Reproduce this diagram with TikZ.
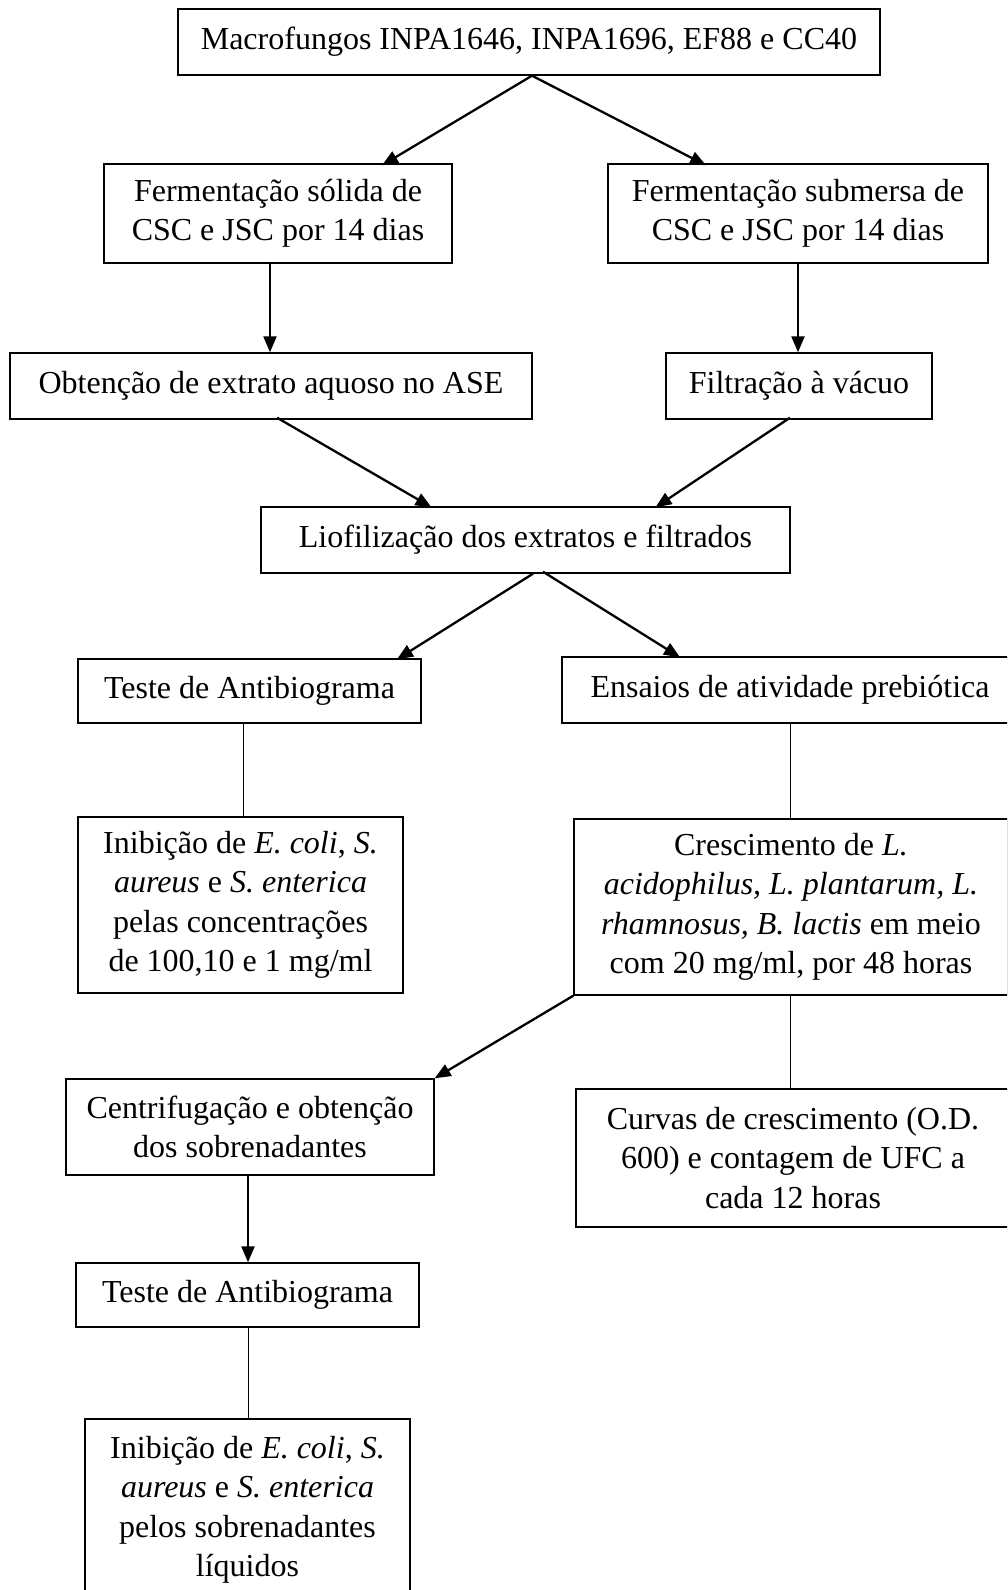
\documentclass[tikz,border=0pt]{standalone}
\usepackage{fontspec}
\setmainfont{Liberation Serif}
\usetikzlibrary{arrows.meta}
\begin{document}
\begin{tikzpicture}[x=1pt,y=-1pt,
  box/.style={draw,line width=1.4pt,inner sep=0pt,align=center,
    font=\fontsize{32}{39.5}\selectfont},
  arr/.style={line width=2.3pt,-{Triangle[length=16pt,width=13pt]}},
  thin/.style={line width=1pt}]
\useasboundingbox (0,0) rectangle (1007,1590);
\clip (0,0) rectangle (1007,1590);
\node[box,minimum width=702,minimum height=66] (top) at (529,42) {Macrofungos INPA1646, INPA1696, EF88 e CC40};
\node[box,minimum width=348,minimum height=99] (fs) at (278,213.5) {Fermentação sólida de\\CSC e JSC por 14 dias};
\node[box,minimum width=380,minimum height=99] (fsub) at (798,213.5) {Fermentação submersa de\\CSC e JSC por 14 dias};
\node[box,minimum width=522,minimum height=66] (obt) at (271,386) {Obtenção de extrato aquoso no ASE};
\node[box,minimum width=266,minimum height=66] (filt) at (799,386) {Filtração à vácuo};
\node[box,minimum width=529,minimum height=66] (lio) at (525.5,540) {Liofilização dos extratos e filtrados};
\node[box,minimum width=343,minimum height=64] (t1) at (249.5,691) {Teste de Antibiograma};
\node[box,minimum width=456,minimum height=66] (ens) at (790,690) {Ensaios de atividade prebiótica};
\node[box,minimum width=325,minimum height=176] (inib1) at (240.5,905) {Inibição de \textit{E. coli}, \textit{S.}\\\textit{aureus} e \textit{S. enterica}\\pelas concentrações\\de 100,10 e 1 mg/ml};
\node[box,minimum width=434,minimum height=176] (cres) at (791,907) {Crescimento de \textit{L.}\\\textit{acidophilus, L. plantarum, L.}\\\textit{rhamnosus, B. lactis} em meio\\com 20 mg/ml, por 48 horas};
\node[box,minimum width=368,minimum height=96] (cent) at (250,1127) {Centrifugação e obtenção\\dos sobrenadantes};
\node[box,minimum width=434,minimum height=138] (curv) at (793,1158) {Curvas de crescimento (O.D.\\600) e contagem de UFC a\\cada 12 horas};
\node[box,minimum width=343,minimum height=64] (t2) at (247.5,1295) {Teste de Antibiograma};
\node[box,minimum width=325,minimum height=182] (inib2) at (247.5,1510) {Inibição de \textit{E. coli}, \textit{S.}\\\textit{aureus} e \textit{S. enterica}\\pelos sobrenadantes\\líquidos};
% arrows
\draw[arr] ([xshift=3]top.south) -- ([xshift=104,yshift=-2]fs.north);
\draw[arr] ([xshift=3]top.south) -- ([xshift=-92,yshift=-2]fsub.north);
\draw[arr] ([xshift=-8,yshift=2]fs.south) -- ([xshift=-1]obt.north);
\draw[arr] ([yshift=2]fsub.south) -- ([xshift=-1]filt.north);
\draw[arr] ([xshift=6,yshift=2]obt.south) -- ([xshift=-94,yshift=-1]lio.north);
\draw[arr] ([xshift=-9,yshift=2]filt.south) -- ([xshift=130,yshift=-1]lio.north);
\draw[arr] ([xshift=7.5]lio.south) -- ([xshift=147.5,yshift=-1]t1.north);
\draw[arr] ([xshift=17.5,yshift=2]lio.south) -- ([xshift=-110,yshift=-1]ens.north);
\draw[arr] (cres.south west) -- (cent.north east);
\draw[arr] ([xshift=-2]cent.south) -- ([xshift=0.5]t2.north);
% plain lines
\draw[thin] ([xshift=-6.5]t1.south) -- ([xshift=2.5]inib1.north);
\draw[thin] (ens.south) -- ([xshift=-1]cres.north);
\draw[thin] ([xshift=-1]cres.south) -- ([xshift=-3]curv.north);
\draw[thin] ([xshift=0.5]t2.south) -- ([xshift=0.5]inib2.north);
\end{tikzpicture}
\end{document}
